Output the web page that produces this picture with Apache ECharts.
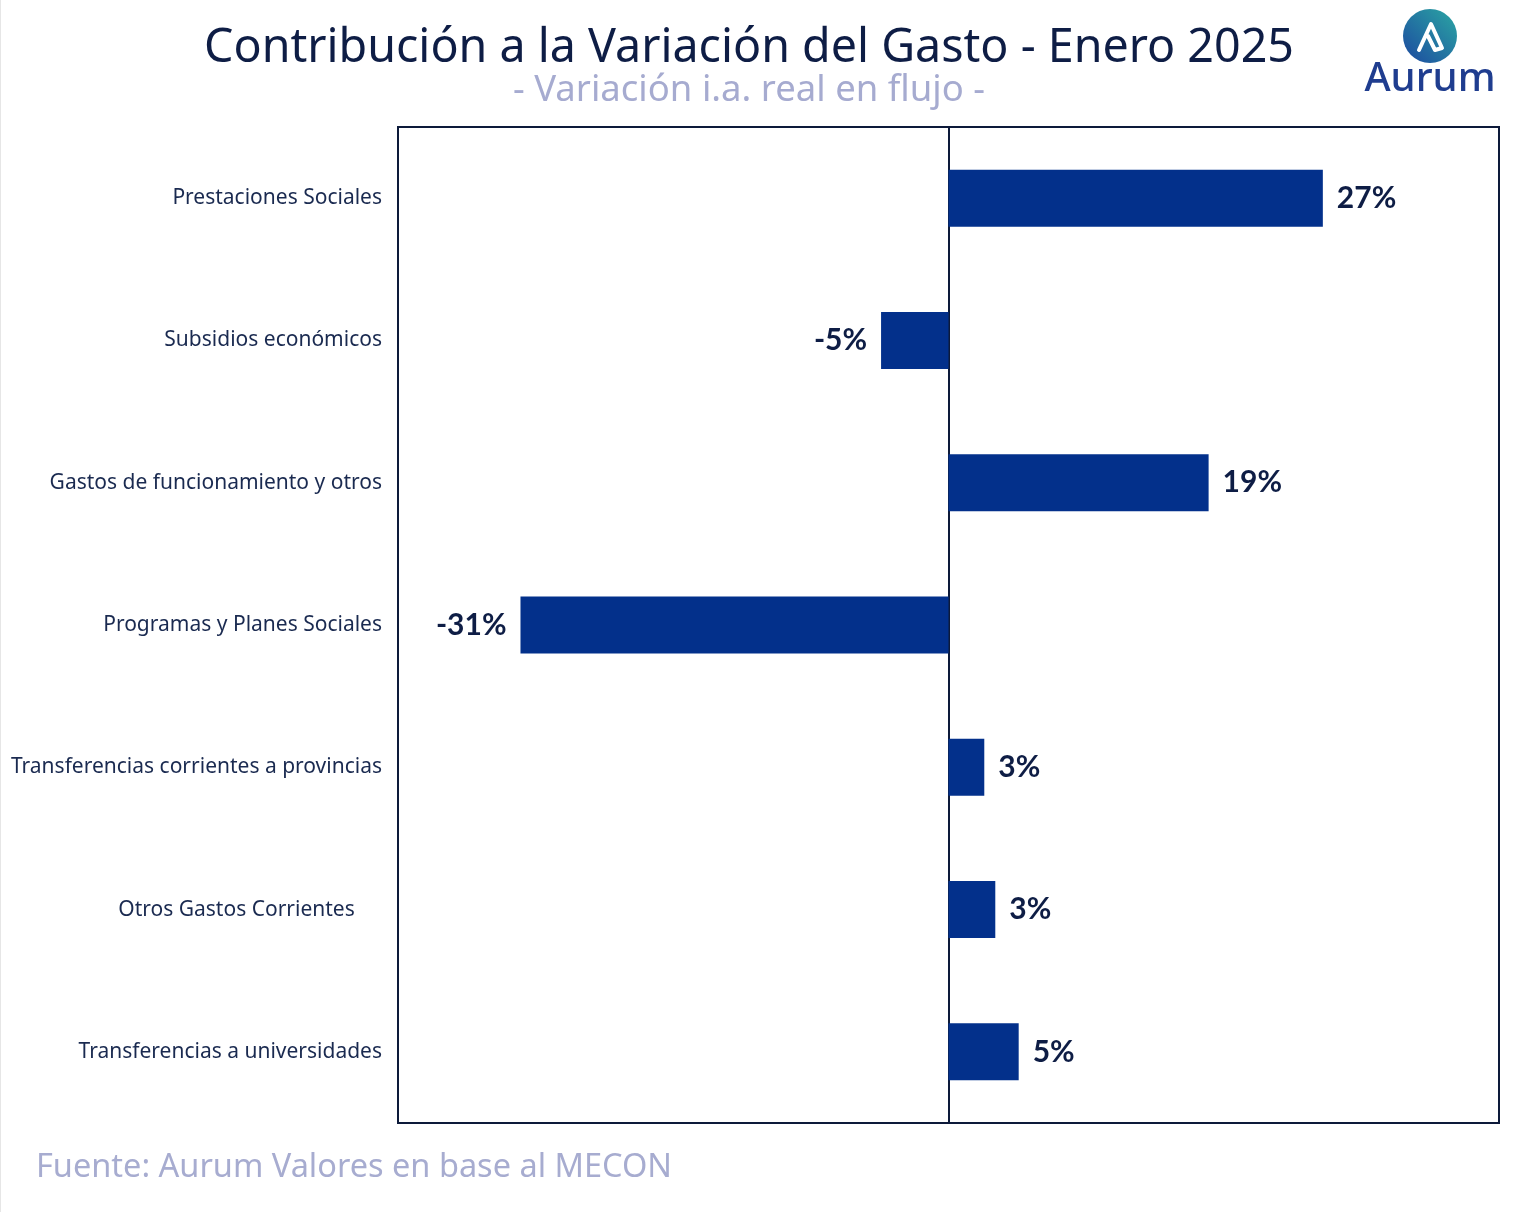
<!DOCTYPE html>
<html><head><meta charset="utf-8">
<script src="https://cdn.jsdelivr.net/npm/echarts@6/dist/echarts.min.js"></script>
<style>html,body{margin:0;padding:0;background:#fff}#c{width:1522px;height:1212px}</style>
</head><body><div id="c"></div>
<script>
const categories = [
  'Prestaciones Sociales',
  'Subsidios económicos',
  'Gastos de funcionamiento y otros',
  'Programas y Planes Sociales',
  'Transferencias corrientes a provincias',
  'Otros Gastos Corrientes     ',
  'Transferencias a universidades'
];
const values = [27.2, -4.9, 18.9, -31.1, 2.6, 3.4, 5.1];
const titleText = 'Contribución a la Variación del Gasto - Enero 2025';
const subtitleText = '- Variación i.a. real en flujo -';
const sourceText = 'Fuente: Aurum Valores en base al MECON';

const FONT = '"Noto Sans"';
const chart = echarts.init(document.getElementById('c'));
const data = values.map(v => ({
  value: v,
  label: { position: v >= 0 ? 'right' : 'left' }
}));
chart.setOption({
  animation: false,
  backgroundColor: '#ffffff',
  title: [
    { text: titleText, left: 744, top: 20, textAlign: 'center',
      textStyle: { fontFamily: FONT, fontSize: 46.6, fontWeight: 'normal', color: '#0e1d45' } },
    { text: subtitleText, left: 744, top: 67, textAlign: 'center',
      textStyle: { fontFamily: FONT, fontSize: 36.5, fontWeight: 'normal', color: '#a6abd0' } },
    { text: sourceText, left: 31, top: 1146,
      textStyle: { fontFamily: FONT, fontSize: 32.5, fontWeight: 'normal', color: '#a7acd0' } }
  ],
  grid: { left: 398, right: 23, top: 127, bottom: 89, show: true,
    borderColor: '#0d1a3a', borderWidth: 2, backgroundColor: 'transparent' },
  xAxis: { type: 'value', min: -40, max: 40, show: true,
    axisLabel: { show: false }, axisTick: { show: false }, axisLine: { show: false },
    splitLine: { show: false } },
  yAxis: { type: 'category', data: categories, inverse: true,
    axisLine: { show: true, onZero: true, lineStyle: { color: '#0d1a3a', width: 2 } },
    axisTick: { show: false },
    axisLabel: { fontFamily: FONT, fontSize: 21, color: '#1a2a50', margin: 16 } },
  series: [{
    type: 'bar', data: data, barWidth: 57,
    itemStyle: { color: '#03308b' },
    label: { show: true, distance: 14, fontFamily: 'Lato', fontSize: 30, fontWeight: 'bold',
      color: '#0e1d45', formatter: p => Math.round(p.value) + '%' }
  }],
  graphic: [
    { type: 'circle', shape: { cx: 1430, cy: 36, r: 27 },
      style: { fill: new echarts.graphic.LinearGradient(0, 1, 1, 0, [
        { offset: 0, color: '#1c48a0' }, { offset: 1, color: '#2ba7a3' }]) } },
    { type: 'polyline', shape: { points: [[1419, 50], [1431, 24], [1442, 48], [1435, 50], [1428, 36]] },
      style: { stroke: '#ffffff', lineWidth: 4, fill: null, lineJoin: 'round', lineCap: 'round' } },
    { type: 'text', style: { text: 'Aurum', x: 1430, y: 80, align: 'center', verticalAlign: 'middle',
      font: '500 40px ' + FONT, fill: '#1f3d8f' } },
    { type: 'line', shape: { x1: 0.5, y1: 0, x2: 0.5, y2: 1212 }, style: { stroke: '#e6e6e6', lineWidth: 1 } }
  ]
});
</script></body></html>
